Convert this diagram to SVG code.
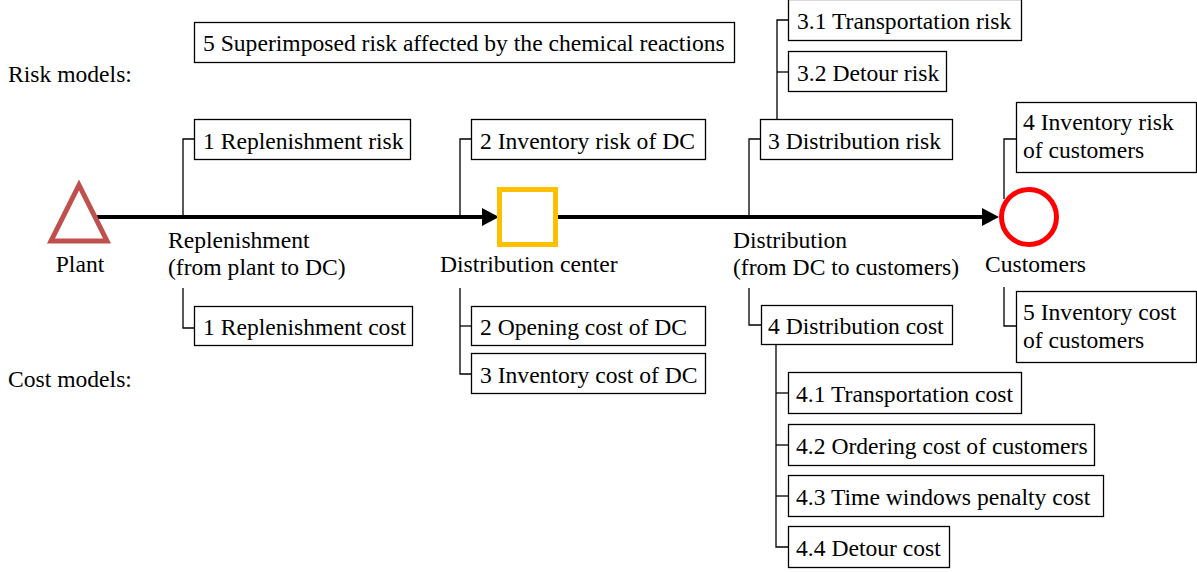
<svg xmlns="http://www.w3.org/2000/svg" width="1197" height="572" viewBox="0 0 1197 572">
  <style>
    .lbl { font-family: "Liberation Serif", "Times New Roman", serif; font-size: 23.6px; fill: #000; }
    .box { fill: #fff; stroke: #000; stroke-width: 1.3; }
    .tie { fill: none; stroke: #000; stroke-width: 1.3; }
    .flow { fill: none; stroke: #000; stroke-width: 4; }
  </style>
  <defs>
    <marker id="head" markerUnits="userSpaceOnUse" markerWidth="17" markerHeight="18" viewBox="0 0 17 18" refX="3" refY="9" orient="auto">
      <path d="M0,0 L17,9 L0,18 z" fill="#000"/>
    </marker>
  </defs>

  <rect width="1197" height="572" fill="#fff"/>

  <!-- side captions -->
  <text class="lbl" x="8" y="82">Risk models:</text>
  <text class="lbl" x="8" y="387">Cost models:</text>

  <!-- flows and branch ties -->
  <g id="connectors">
    <line class="flow" x1="97" y1="217" x2="485" y2="217" marker-end="url(#head)"/>
    <line class="flow" x1="556" y1="217" x2="985" y2="217" marker-end="url(#head)"/>

    <!-- replenishment -->
    <polyline class="tie" points="183,217 183,139 194,139"/>
    <polyline class="tie" points="183,288 183,328 194,328"/>
    <!-- distribution center -->
    <polyline class="tie" points="460,217 460,139 471,139"/>
    <polyline class="tie" points="460,288 460,374 471,374"/>
    <line class="tie" x1="460" y1="326" x2="471" y2="326"/>
    <!-- distribution -->
    <polyline class="tie" points="749,217 749,139 760,139"/>
    <polyline class="tie" points="777,119 777,20 788,20"/>
    <line class="tie" x1="777" y1="72" x2="788" y2="72"/>
    <polyline class="tie" points="749,288 749,325 761,325"/>
    <polyline class="tie" points="776,344 776,547 788,547"/>
    <line class="tie" x1="776" y1="393" x2="788" y2="393"/>
    <line class="tie" x1="776" y1="445" x2="788" y2="445"/>
    <line class="tie" x1="776" y1="496" x2="788" y2="496"/>
    <!-- customers -->
    <polyline class="tie" points="1004,199 1004,139 1016,139"/>
    <polyline class="tie" points="1004,287 1004,326 1016,326"/>
  </g>

  <!-- facilities -->
  <g id="plant">
    <polygon points="79,185 51,241 107,241" fill="none" stroke="#C0504D" stroke-width="5"/>
    <text class="lbl" x="80" y="272" text-anchor="middle">Plant</text>
  </g>
  <g id="dc">
    <rect x="499.5" y="189.5" width="56" height="55" fill="#fff" stroke="#FFC000" stroke-width="5"/>
    <text class="lbl" x="440" y="272">Distribution center</text>
  </g>
  <g id="customers">
    <circle cx="1029" cy="217" r="27.5" fill="#fff" stroke="#FF0000" stroke-width="5"/>
    <text class="lbl" x="985" y="272">Customers</text>
  </g>

  <!-- flow captions -->
  <g id="replenishment">
    <text class="lbl" x="168" y="248">Replenishment</text>
    <text class="lbl" x="168" y="275">(from plant to DC)</text>
  </g>
  <g id="distribution">
    <text class="lbl" x="733" y="248">Distribution</text>
    <text class="lbl" x="733" y="275">(from DC to customers)</text>
  </g>

  <!-- risk model boxes -->
  <g id="risk5">
    <rect class="box" x="194.5" y="22.5" width="540" height="40"/>
    <text class="lbl" x="203" y="51">5 Superimposed risk affected by the chemical reactions</text>
  </g>
  <g id="risk1">
    <rect class="box" x="194.5" y="119.5" width="216" height="40"/>
    <text class="lbl" x="203" y="149">1 Replenishment risk</text>
  </g>
  <g id="risk2">
    <rect class="box" x="471.5" y="119.5" width="234" height="40"/>
    <text class="lbl" x="480" y="149">2 Inventory risk of DC</text>
  </g>
  <g id="risk3">
    <rect class="box" x="760.5" y="119.5" width="192" height="40"/>
    <text class="lbl" x="768" y="149">3 Distribution risk</text>
  </g>
  <g id="risk3-1">
    <rect class="box" x="788.5" y="-0.5" width="233" height="41"/>
    <text class="lbl" x="797" y="29">3.1 Transportation risk</text>
  </g>
  <g id="risk3-2">
    <rect class="box" x="788.5" y="51.5" width="158" height="40"/>
    <text class="lbl" x="797" y="81">3.2 Detour risk</text>
  </g>
  <g id="risk4">
    <rect class="box" x="1016.5" y="102.5" width="180" height="70"/>
    <text class="lbl" x="1023" y="130">4 Inventory risk</text>
    <text class="lbl" x="1023" y="158">of customers</text>
  </g>

  <!-- cost model boxes -->
  <g id="cost1">
    <rect class="box" x="194.5" y="306.5" width="218" height="39"/>
    <text class="lbl" x="203" y="335">1 Replenishment cost</text>
  </g>
  <g id="cost2">
    <rect class="box" x="471.5" y="306.5" width="234" height="39"/>
    <text class="lbl" x="480" y="335">2 Opening cost of DC</text>
  </g>
  <g id="cost3">
    <rect class="box" x="471.5" y="353.5" width="234" height="40"/>
    <text class="lbl" x="480" y="383">3 Inventory cost of DC</text>
  </g>
  <g id="cost4">
    <rect class="box" x="761.5" y="305.5" width="191" height="39"/>
    <text class="lbl" x="768" y="334">4 Distribution cost</text>
  </g>
  <g id="cost4-1">
    <rect class="box" x="788.5" y="372.5" width="233" height="41"/>
    <text class="lbl" x="796" y="402">4.1 Transportation cost</text>
  </g>
  <g id="cost4-2">
    <rect class="box" x="788.5" y="424.5" width="306" height="41"/>
    <text class="lbl" x="796" y="454">4.2 Ordering cost of customers</text>
  </g>
  <g id="cost4-3">
    <rect class="box" x="788.5" y="475.5" width="315" height="41"/>
    <text class="lbl" x="796" y="505">4.3 Time windows penalty cost</text>
  </g>
  <g id="cost4-4">
    <rect class="box" x="788.5" y="526.5" width="161" height="41"/>
    <text class="lbl" x="796" y="556">4.4 Detour cost</text>
  </g>
  <g id="cost5">
    <rect class="box" x="1016.5" y="291.5" width="180" height="71"/>
    <text class="lbl" x="1023" y="320">5 Inventory cost</text>
    <text class="lbl" x="1023" y="348">of customers</text>
  </g>
</svg>
